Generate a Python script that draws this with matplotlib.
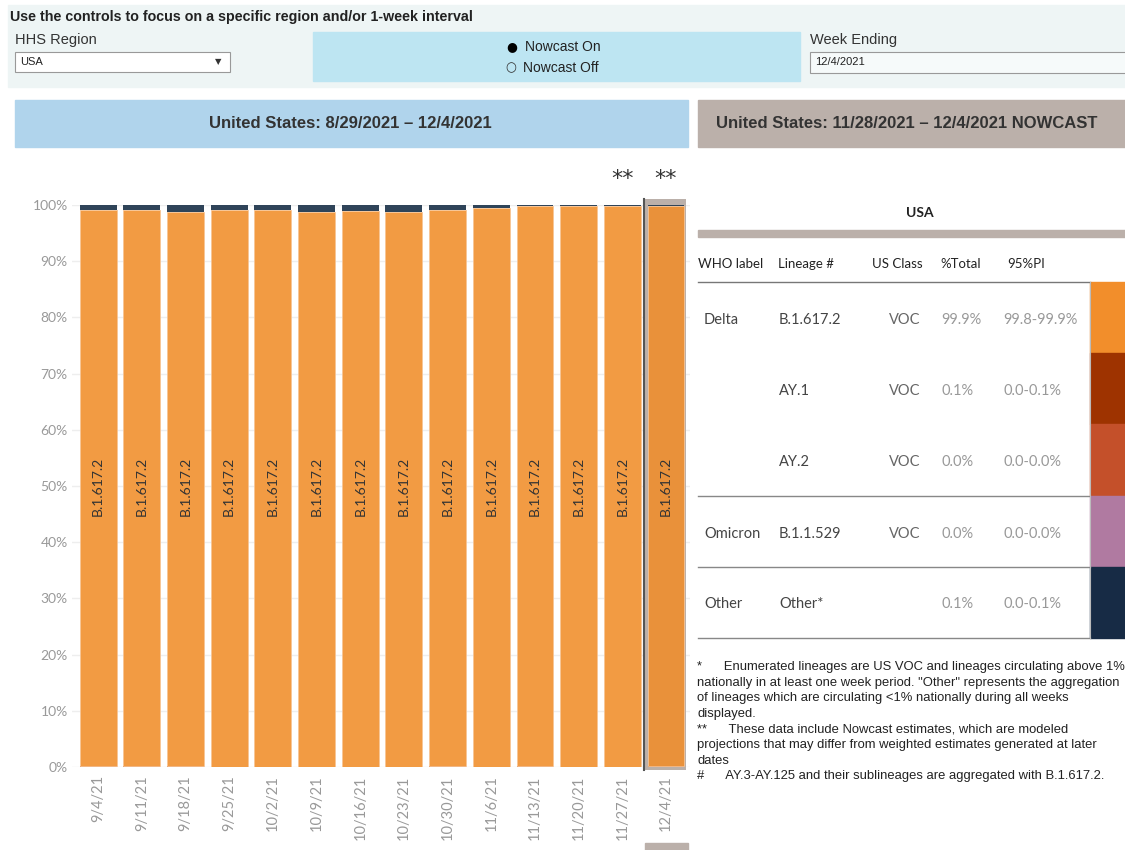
import matplotlib.pyplot as plt
from matplotlib.patches import Rectangle

# weekly proportions (percent)
weeks = ['9/4/21', '9/11/21', '9/18/21', '9/25/21', '10/2/21', '10/9/21', '10/16/21',
         '10/23/21', '10/30/21', '11/6/21', '11/13/21', '11/20/21', '11/27/21', '12/4/21']
other_pct = [0.85, 0.85, 1.2, 0.85, 0.85, 1.2, 1.0, 1.2, 0.85, 0.6, 0.2, 0.15, 0.15, 0.1]
ay1_pct = [0.2, 0.2, 0.2, 0.0, 0.0, 0.0, 0.0, 0.0, 0.2, 0.0, 0.2, 0.0, 0.0, 0.1]
delta_pct = [100 - o - a for o, a in zip(other_pct, ay1_pct)]
nowcast_weeks = ['11/27/21', '12/4/21']

# nowcast table
who_label = ['Delta', '', '', 'Omicron', 'Other']
lineage = ['B.1.617.2', 'AY.1', 'AY.2', 'B.1.1.529', 'Other*']
us_class = ['VOC', 'VOC', 'VOC', 'VOC', '']
pct_total = ['99.9%', '0.1%', '0.0%', '0.0%', '0.1%']
pi_95 = ['99.8-99.9%', '0.0-0.1%', '0.0-0.0%', '0.0-0.0%', '0.0-0.1%']
swatch = ['#F28E2B', '#9E3300', '#C4502A', '#B07AA1', '#172B45']

footnotes = [
    '*      Enumerated lineages are US VOC and lineages circulating above 1%',
    'nationally in at least one week period. "Other" represents the aggregation',
    'of lineages which are circulating <1% nationally during all weeks',
    'displayed.',
    '**      These data include Nowcast estimates, which are modeled',
    'projections that may differ from weighted estimates generated at later',
    'dates',
    '#      AY.3-AY.125 and their sublineages are aggregated with B.1.617.2.',
]

W, H = 1125, 850
fig = plt.figure(figsize=(W / 100, H / 100), dpi=100)
ov = fig.add_axes([0, 0, 1, 1])
ov.set_xlim(0, W)
ov.set_ylim(H, 0)
ov.axis('off')

tab = ['Lato', 'DejaVu Sans']
arial = ['Liberation Sans', 'DejaVu Sans']

# control strip
ov.add_patch(Rectangle((8, 5), W - 8, 82, color='#EEF5F5', zorder=0))
ov.text(10, 17, 'Use the controls to focus on a specific region and/or 1-week interval',
        fontsize=10.3, fontweight='bold', va='center', family=arial, color='#222')
ov.text(15, 40, 'HHS Region', fontsize=10.5, va='center', family=arial, color='#333')
ov.add_patch(Rectangle((15, 52), 215, 20, fc='white', ec='#999', lw=0.8))
ov.text(20, 62, 'USA', fontsize=8, va='center', family=arial, color='#222')
ov.text(218, 62, '▼', fontsize=6, va='center', ha='center', color='#333')
ov.add_patch(Rectangle((313, 32), 487, 49, color='#BDE5F2'))
ov.text(512, 47, '●', fontsize=9, va='center', ha='center', color='black')
ov.text(525, 47, 'Nowcast On', fontsize=10, va='center', family=arial, color='#222')
ov.text(511, 68, '○', fontsize=9, va='center', ha='center', color='#333')
ov.text(523, 68, 'Nowcast Off', fontsize=10, va='center', family=arial, color='#222')
ov.text(810, 40, 'Week Ending', fontsize=10.5, va='center', family=arial, color='#333')
ov.add_patch(Rectangle((810, 52), 320, 21, fc='#F6FAFA', ec='#999', lw=0.8))
ov.text(815, 62, '12/4/2021', fontsize=8, va='center', family=arial, color='#222')

# title bars
ov.add_patch(Rectangle((15, 100), 673, 47, color='#B0D4EC'))
ov.text(350, 123, 'United States: 8/29/2021 \u2013 12/4/2021', fontsize=12, fontweight='bold',
        ha='center', va='center', family=arial, color='#333')
ov.add_patch(Rectangle((698, 100), W - 698, 47, color='#BBB0AA'))
ov.text(716, 123, 'United States: 11/28/2021 \u2013 12/4/2021 NOWCAST', fontsize=12,
        fontweight='bold', va='center', family=arial, color='#333')

# nowcast table
ov.text(920, 213, 'USA', fontsize=10, fontweight='bold', ha='center', va='center',
        family=tab, color='#222')
ov.add_patch(Rectangle((698, 230), W - 698, 7, color='#BBB0AA'))
for x, s in zip([698, 778, 872, 940, 1007], ['WHO label', 'Lineage #', 'US Class', '%Total', '95%PI']):
    ov.text(x, 264, s, fontsize=9.5, va='center', family=tab, color='#222')
ov.plot([698, 1090], [282, 282], color='#777', lw=1)
row_y = [282, 353, 424, 496, 567, 638]
for i in range(len(lineage)):
    yc = (row_y[i] + row_y[i + 1]) / 2 + 2
    ov.text(704, yc, who_label[i], fontsize=10.5, va='center', family=tab, color='#444')
    ov.text(779, yc, lineage[i], fontsize=10.5, va='center', family=tab, color='#444')
    ov.text(889, yc, us_class[i], fontsize=10.5, va='center', family=tab, color='#666')
    ov.text(941, yc, pct_total[i], fontsize=10.5, va='center', family=tab, color='#999')
    ov.text(1003, yc, pi_95[i], fontsize=10.5, va='center', family=tab, color='#999')
    ov.add_patch(Rectangle((1090, row_y[i]), 40, row_y[i + 1] - row_y[i], color=swatch[i]))
for y in [496, 567, 638]:
    ov.plot([698, 1090], [y, y], color='#888', lw=1)
ov.plot([1090, 1090], [282, 638], color='#bbb', lw=0.8)

for k, line in enumerate(footnotes):
    ov.text(697, 667 + k * 15.6, line, fontsize=9.4, va='center', family=arial, color='#222')

ov.add_patch(Rectangle((645, 843), 43, 10, color='#BBB0AA'))

# stacked bar chart
ax = fig.add_axes([72 / W, (H - 767) / H, (690 - 72) / W, (767 - 205) / H])
ax.set_facecolor('none')
x = list(range(len(weeks)))
last = len(weeks) - 1
ax.add_patch(Rectangle((last - 0.5, -0.6), 0.96, 101.7, fc='#BBB0AA', ec='none', zorder=1, clip_on=False))
ax.plot([last - 0.5, last - 0.5], [-0.6, 101.1], color='#555', lw=1.5, zorder=1, clip_on=False)

orange = ['#F29B43'] * last + ['#E9913A']
ax.bar(x, ay1_pct, width=0.845, color='#B5421A', zorder=2)
ax.bar(x, delta_pct, bottom=ay1_pct, width=0.845, color=orange, edgecolor='#F7C596', lw=0.6, zorder=2)
top_bottom = [a + d for a, d in zip(ay1_pct, delta_pct)]
ax.bar(x, other_pct, bottom=top_bottom, width=0.845, color='#2F4459', zorder=2)

for i, wk in enumerate(weeks):
    ax.text(i, 50, 'B.1.617.2', rotation=90, ha='center', va='center', fontsize=10,
            family=tab, color='#333', zorder=3)
    if wk in nowcast_weeks:
        ax.annotate('**', (i, 100), xytext=(0, 19), textcoords='offset points', ha='center',
                    va='center', fontsize=16, color='#333', annotation_clip=False)

ax.set_xlim(-0.6, 13.55)
ax.set_ylim(0, 100)
ax.set_yticks(range(0, 101, 10))
ax.set_yticklabels([f'{v}%' for v in range(0, 101, 10)], family=tab, fontsize=10, color='#999')
ax.set_xticks(x)
ax.set_xticklabels(weeks, rotation=90, family=tab, fontsize=10.5, color='#999')
ax.tick_params(axis='y', length=0, pad=3)
ax.tick_params(axis='x', length=0, pad=6)
ax.grid(axis='y', color='#EEEEEE', lw=1, zorder=0)
ax.set_axisbelow(True)
for sp in ax.spines.values():
    sp.set_visible(False)

fig.savefig('out.png', dpi=100)
